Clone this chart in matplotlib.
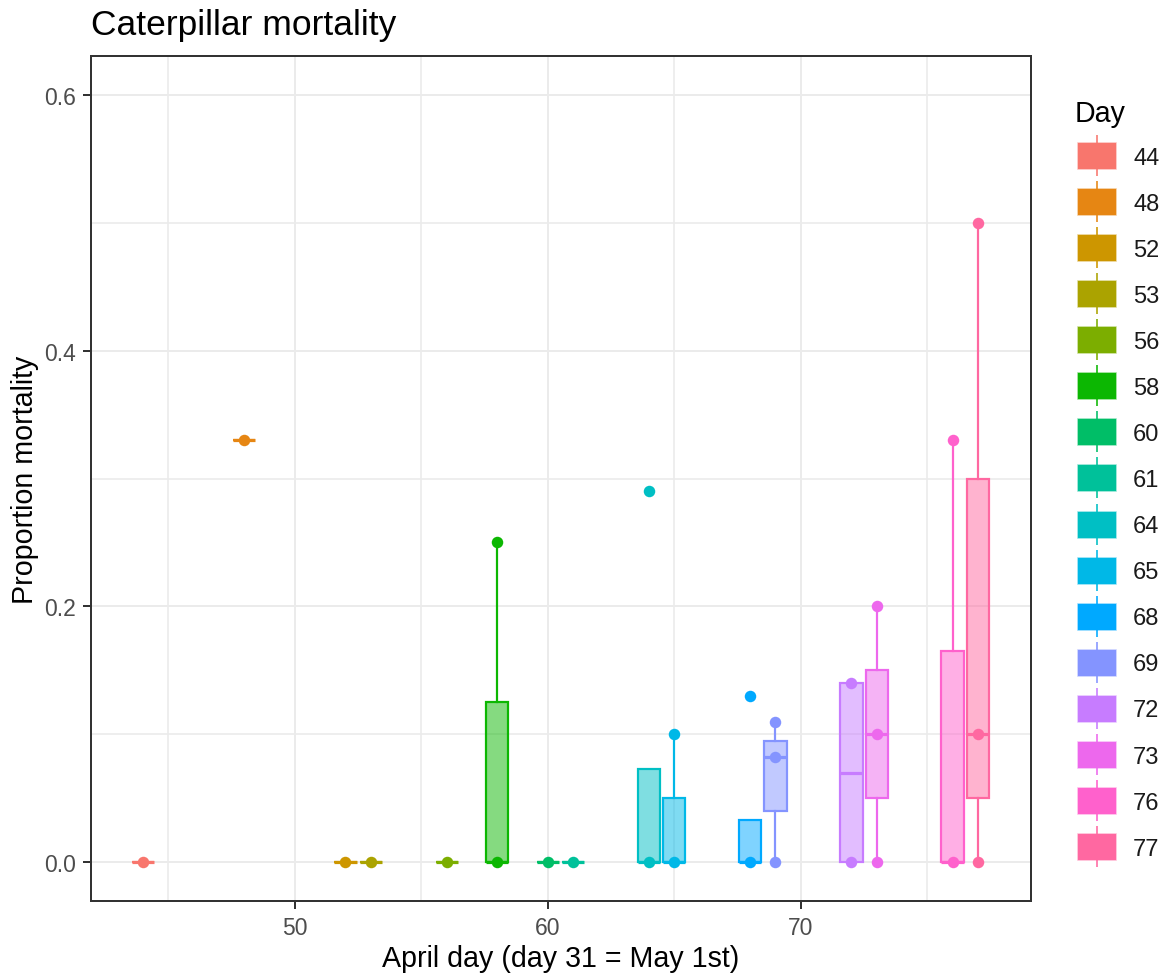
import matplotlib
matplotlib.use("Agg")
import matplotlib.pyplot as plt
from matplotlib.colors import to_rgba
from matplotlib.patches import Rectangle
from matplotlib.lines import Line2D
from matplotlib.ticker import MultipleLocator, FixedLocator

plt.rcParams['font.family'] = ['Liberation Sans', 'DejaVu Sans']

# ---- data -------------------------------------------------------------
days = [44, 48, 52, 53, 56, 58, 60, 61, 64, 65, 68, 69, 72, 73, 76, 77]

whisker_low = [0.00, 0.33, 0.00, 0.00, 0.00, 0.00, 0.00, 0.00,
               0.00, 0.00, 0.00, 0.00, 0.00, 0.00, 0.00, 0.00]
quartile_1 = [0.00, 0.33, 0.00, 0.00, 0.00, 0.00, 0.00, 0.00,
              0.00, 0.00, 0.00, 0.04, 0.00, 0.05, 0.00, 0.05]
medians = [0.00, 0.33, 0.00, 0.00, 0.00, 0.00, 0.00, 0.00,
           0.00, 0.00, 0.00, 0.082, 0.07, 0.10, 0.00, 0.10]
quartile_3 = [0.00, 0.33, 0.00, 0.00, 0.00, 0.125, 0.00, 0.00,
              0.073, 0.05, 0.033, 0.095, 0.14, 0.15, 0.165, 0.30]
whisker_high = [0.00, 0.33, 0.00, 0.00, 0.00, 0.25, 0.00, 0.00,
                0.073, 0.10, 0.033, 0.11, 0.14, 0.20, 0.33, 0.50]

# observed proportions per sampling day (drawn as points)
observations = [
    [0.0],
    [0.33],
    [0.0],
    [0.0],
    [0.0],
    [0.0, 0.25],
    [0.0],
    [0.0],
    [0.0, 0.29],
    [0.0, 0.10],
    [0.0, 0.13],
    [0.0, 0.082, 0.11],
    [0.0, 0.14],
    [0.0, 0.10, 0.20],
    [0.0, 0.33],
    [0.0, 0.10, 0.50],
]

day_colors = ["#F8766D", "#E68613", "#CD9600", "#ABA300", "#7CAE00", "#0CB702",
              "#00BE67", "#00C19A", "#00BFC4", "#00B8E7", "#00A9FF", "#8494FF",
              "#C77CFF", "#ED68ED", "#FF61CC", "#FF68A1"]

# ---- figure -----------------------------------------------------------
W, H = 1167, 979
fig = plt.figure(figsize=(W / 100, H / 100), dpi=100)
px = 0.72  # points per pixel at 100 dpi

ax_left, ax_right, ax_top, ax_bottom = 90.7, 1031.0, 57.3, 901.7
ax = fig.add_axes([ax_left / W, 1 - ax_bottom / H,
                   (ax_right - ax_left) / W, (ax_bottom - ax_top) / H])

ax.set_xlim(41.93, 79.1)
ax.set_ylim(-0.03, 0.63)

stats = [dict(med=m, q1=a, q3=b, whislo=lo, whishi=hi, fliers=[])
         for lo, a, m, b, hi in zip(whisker_low, quartile_1, medians,
                                    quartile_3, whisker_high)]
bp = ax.bxp(stats, positions=days, widths=0.88, patch_artist=True,
            showcaps=False, showfliers=False, manage_ticks=False)

edge_lw = 2.2 * px
for i, c in enumerate(day_colors):
    bp['boxes'][i].set(facecolor=to_rgba(c, 0.5), edgecolor=c,
                       linewidth=edge_lw, zorder=2)
    for w in bp['whiskers'][2 * i:2 * i + 2]:
        w.set(color=c, linewidth=edge_lw, zorder=2)
    bp['medians'][i].set(color=c, linewidth=3.2 * px, zorder=2.1)

for d, obs, c in zip(days, observations, day_colors):
    ax.scatter([d] * len(obs), obs, s=(11.5 * px) ** 2, color=c,
               linewidths=0, zorder=3)

# axes styling
ax.xaxis.set_major_locator(FixedLocator([50, 60, 70]))
ax.xaxis.set_minor_locator(FixedLocator([45, 55, 65, 75]))
ax.yaxis.set_major_locator(MultipleLocator(0.2))
ax.yaxis.set_minor_locator(FixedLocator([0.1, 0.3, 0.5]))
ax.yaxis.set_major_formatter(plt.FuncFormatter(lambda v, p: f"{v:.1f}"))

ax.set_axisbelow(True)
ax.grid(which='major', color='#EBEBEB', linewidth=2.0 * px)
ax.grid(which='minor', color='#EBEBEB', linewidth=1.6 * px)

for s in ax.spines.values():
    s.set_color('#333333')
    s.set_linewidth(2.0 * px)

ax.tick_params(which='major', direction='out', length=8 * px, width=2.0 * px,
               color='#333333', labelcolor='#4D4D4D', labelsize=16.5, pad=5)
ax.tick_params(which='minor', length=0)

ax.set_title("Caterpillar mortality", loc='left', fontsize=25.5, pad=16,
             color='black')
ax.set_xlabel("April day (day 31 = May 1st)", fontsize=20.6, color='black')
ax.set_ylabel("Proportion mortality", fontsize=20.6, color='black')
ax.xaxis.set_label_coords(0.5, -(945 - ax_bottom) / (ax_bottom - ax_top))
ax.yaxis.set_label_coords((25 - ax_left) / (ax_right - ax_left), 0.5)
ax.yaxis.label.set_verticalalignment('center')

# ---- legend -----------------------------------------------------------
lg = fig.add_axes([0, 0, 1, 1], facecolor='none')
lg.set_xlim(0, W)
lg.set_ylim(H, 0)
lg.axis('off')

lg.text(1075, 121.5, "Day", fontsize=20.6, ha='left', va='baseline',
        color='black')
row0, row_step = 157.0, 46.07
key_x, key_w, key_h = 1078, 38, 26
for i, (d, c) in enumerate(zip(days, day_colors)):
    yc = row0 + i * row_step
    lg.add_line(Line2D([key_x + key_w / 2] * 2, [yc - 20, yc + 19],
                       color=c, linewidth=2.0 * px, alpha=0.8))
    lg.add_patch(Rectangle((key_x, yc - key_h / 2), key_w, key_h,
                           facecolor=c, edgecolor=to_rgba(c, 0.5),
                           linewidth=1.5 * px))
    lg.text(1133, yc + 7.6, str(d), fontsize=17, ha='left', va='baseline',
            color='#1A1A1A')

fig.savefig("out.png", dpi=100)
